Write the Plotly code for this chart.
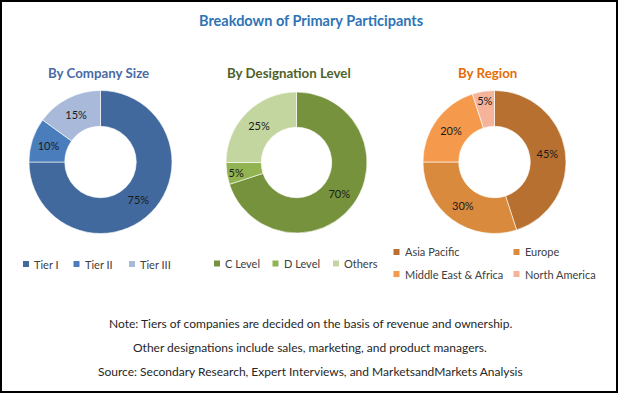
import plotly.graph_objects as go

W, H = 618, 393

# ---- data ----
company_labels = ["Tier I", "Tier II", "Tier III"]
company_values = [75, 10, 15]
company_colors = ["#41699D", "#4A7DBB", "#A9B9D9"]

designation_labels = ["C Level", "D Level", "Others"]
designation_values = [70, 5, 25]
designation_colors = ["#76923C", "#92B351", "#C4D6A0"]

region_labels = ["Asia Pacific", "Europe", "Middle East & Africa", "North America"]
region_values = [45, 30, 20, 5]
region_colors = ["#B7702F", "#D98A3D", "#F59A4C", "#F5B39A"]

title_text = "Breakdown of Primary Participants"
subtitles = ["By Company Size", "By Designation Level", "By Region"]
subtitle_colors = ["#4A6BA5", "#4F6228", "#E46C0A"]
notes = [
    "Note: Tiers of companies are decided on the basis of revenue and ownership.",
    "Other designations include sales, marketing, and product managers.",
    "Source: Secondary Research, Expert Interviews, and MarketsandMarkets Analysis",
]

FONT = "Lato, 'Open Sans', sans-serif"

def px_x(x):
    return x / W

def px_y(y):
    return 1 - y / H

def domain(cx, cy, r):
    return dict(x=[px_x(cx - r), px_x(cx + r)], y=[px_y(cy + r), px_y(cy - r)])

fig = go.Figure()

pies = [
    (company_labels, company_values, company_colors, (100.5, 162, 71.5)),
    (designation_labels, designation_values, designation_colors, (296.5, 162.5, 70.5)),
    (region_labels, region_values, region_colors, (494.5, 162, 71.5)),
]

for labels, values, colors, (cx, cy, r) in pies:
    fig.add_trace(go.Pie(
        labels=labels, values=values,
        marker=dict(colors=colors, line=dict(color="white", width=0.6)),
        hole=0.5, sort=False, direction="clockwise", rotation=0,
        texttemplate="%{value}%", textposition="inside",
        insidetextorientation="horizontal",
        textfont=dict(family=FONT, size=11, color="#1a1a1a"),
        domain=domain(cx, cy, r), showlegend=False,
    ))

annotations = []
shapes = []

def text_at(txt, x, y, font, xanchor="center"):
    annotations.append(dict(text=txt, x=px_x(x), y=px_y(y), xref="paper", yref="paper",
                            xanchor=xanchor, yanchor="middle", showarrow=False, font=font))

# title
text_at(title_text, 311, 20, dict(family=FONT, size=14.5, color="#2E74B5", weight="bold"))
# subtitles
for txt, col, cx in zip(subtitles, subtitle_colors, [98, 289, 487]):
    text_at(txt, cx, 73, dict(family=FONT, size=13.3, color=col, weight="bold"))

# legends (manual)
def legend_item(label, color, mx, my):
    s = 6
    shapes.append(dict(type="rect", xref="paper", yref="paper",
                       x0=px_x(mx), x1=px_x(mx + s), y0=px_y(my + s / 2), y1=px_y(my - s / 2),
                       fillcolor=color, line=dict(width=0)))
    text_at(label, mx + 9, my, dict(family=FONT, size=11, color="#404040"), xanchor="left")

for lab, col, mx in zip(company_labels, company_colors, [23, 73.5, 129]):
    legend_item(lab, col, mx, 264)
for lab, col, mx in zip(designation_labels, designation_colors, [214, 272.5, 333]):
    legend_item(lab, col, mx, 263.5)
for lab, col, (mx, my) in zip(region_labels, region_colors,
                              [(393.5, 252), (513.5, 252), (393.5, 274), (513.5, 274)]):
    legend_item(lab, col, mx, my)

# notes
for txt, y in zip(notes, [323, 347, 371.5]):
    text_at(txt, 310, y, dict(family=FONT, size=12, color="#262626"))

# border
shapes.append(dict(type="rect", xref="paper", yref="paper", x0=0, x1=1, y0=0, y1=1,
                   line=dict(color="black", width=4)))

fig.update_layout(
    width=W, height=H,
    margin=dict(l=0, r=0, t=0, b=0),
    paper_bgcolor="white", plot_bgcolor="white",
    annotations=annotations, shapes=shapes,
    uniformtext=dict(minsize=11, mode="show"),
)

fig.write_html(
    "out.html",
    config={"displayModeBar": False},
    post_script="document.body.style.margin='0';document.body.style.overflow='hidden';",
)
